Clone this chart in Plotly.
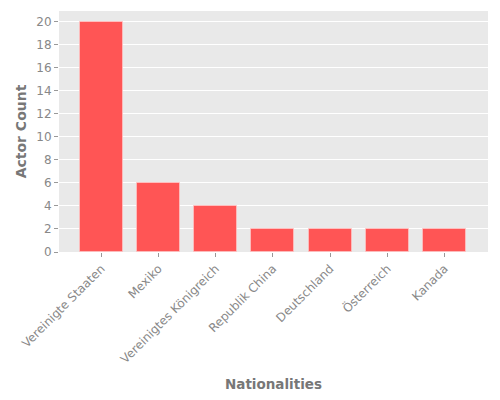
import plotly.graph_objs as go

countries = ["Vereinigte Staaten", "Mexiko", "Vereinigtes Königreich", "Republik China",
             "Deutschland", "Österreich", "Kanada"]
actor_counts = [20, 6, 4, 2, 2, 2, 2]
y_ticks = [0, 2, 4, 6, 8, 10, 12, 14, 16, 18, 20]

fig = go.Figure()
fig.add_trace(go.Bar(
    x=countries, y=actor_counts, width=0.75,
    marker=dict(color="#ff5555", line=dict(color="rgba(255,200,200,0.7)", width=1)),
))

# page body has an 8px margin, so offsets are shifted accordingly
fig.update_layout(
    width=500, height=400,
    font=dict(family="DejaVu Sans", size=12, color="#888888"),
    paper_bgcolor="white", plot_bgcolor="#e9e9e9",
    margin=dict(l=51, r=20, t=3, b=156),
    showlegend=False,
    bargap=0,
)
fig.update_xaxes(
    range=[-0.74, 6.76], tickangle=-45, showgrid=False, zeroline=False, automargin=False,
    ticks="outside", ticklen=4, tickcolor="#999999",
    title=dict(text="<b>Nationalities</b>", font=dict(size=13.5, color="#777777"), standoff=14),
)
fig.update_yaxes(
    range=[0, 20.95], tickvals=y_ticks, gridcolor="white", gridwidth=1, zeroline=False,
    automargin=False,
    ticks="outside", ticklen=4, tickcolor="#999999",
    title=dict(text="<b>Actor Count</b>", font=dict(size=14, color="#777777"), standoff=6),
)

fig.write_html("out.html")
